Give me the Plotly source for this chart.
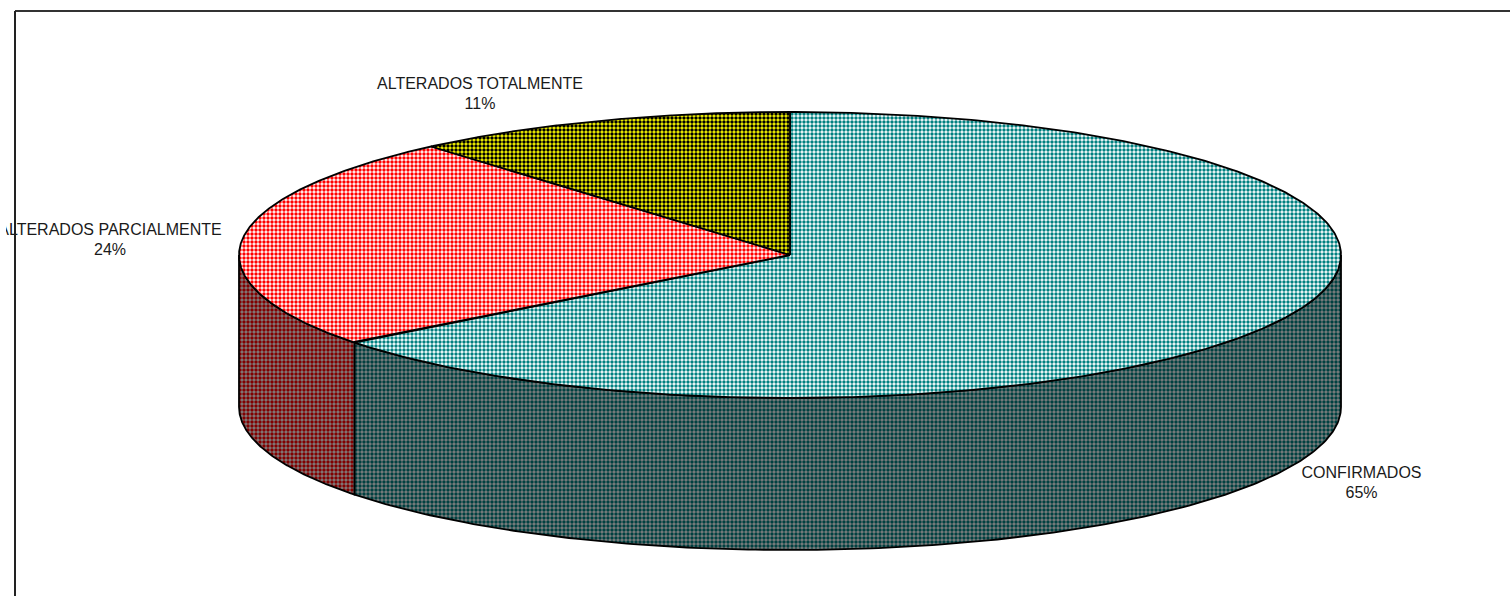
import numpy as np
import plotly.graph_objects as go

categories = ["CONFIRMADOS", "ALTERADOS PARCIALMENTE", "ALTERADOS TOTALMENTE"]
values = [64.51, 24.2, 11.29]
top_fg = ["#008080", "#ff0000", "#000000"]
top_bg = ["#ffffff", "#ffffff", "#ffff00"]
side_fg = ["#004040", "#800000", "#404000"]
side_bg = ["#808080", "#808080", "#808080"]
label_xy = [(1361.5, 484), (110, 241), (480, 95)]

CX, CY, RX, RY, DEPTH = 790, 255, 551, 143, 152


def px(theta):
    return CX + RX * np.sin(theta)


def py(theta):
    return CY - RY * np.cos(theta)


fig = go.Figure()
fr = np.array(values) / sum(values)
edges = np.concatenate([[0], np.cumsum(fr)]) * 2 * np.pi


def patt(fg, bg):
    return dict(shape=".", size=4, solidity=0.58, fgcolor=fg, bgcolor=bg, fillmode="replace")


# sides
for i in range(len(values)):
    a = max(edges[i], np.pi / 2)
    b = min(edges[i + 1], 3 * np.pi / 2)
    if b <= a:
        continue
    t = np.linspace(a, b, 200)
    xs = np.concatenate([px(t), px(t[::-1])])
    ys = np.concatenate([py(t), py(t[::-1]) + DEPTH])
    fig.add_trace(go.Scatter(x=np.append(xs, xs[0]), y=np.append(ys, ys[0]), mode="lines",
                             fill="toself", fillpattern=patt(side_fg[i], side_bg[i]),
                             line=dict(color="#000000", width=1.8), hoverinfo="skip", showlegend=False))
# tops
for i in range(len(values)):
    t = np.linspace(edges[i], edges[i + 1], 400)
    xs = np.concatenate([[CX], px(t), [CX]])
    ys = np.concatenate([[CY], py(t), [CY]])
    fig.add_trace(go.Scatter(x=xs, y=ys, mode="lines", fill="toself",
                             fillpattern=patt(top_fg[i], top_bg[i]),
                             line=dict(color="#000000", width=1.8), hoverinfo="skip", showlegend=False))

# frame
fig.add_shape(type="line", x0=15, x1=1510, y0=11, y1=11, line=dict(color="#333333", width=2))
fig.add_shape(type="line", x0=15, x1=15, y0=11, y1=596, line=dict(color="#222222", width=2))

# labels
fig.add_trace(go.Scatter(
    x=[p[0] for p in label_xy], y=[p[1] for p in label_xy], mode="text",
    text=[f"{c}<br>{round(v)}%" for c, v in zip(categories, values)],
    textposition="middle center", cliponaxis=True,
    textfont=dict(family="Liberation Sans, Arial, sans-serif", size=16, color="#1a1a1a"),
    hoverinfo="skip", showlegend=False))

fig.update_layout(
    width=1510, height=596, margin=dict(l=6, r=0, t=0, b=0),
    paper_bgcolor="#ffffff", plot_bgcolor="#ffffff", showlegend=False,
    xaxis=dict(range=[6, 1510], visible=False, fixedrange=True),
    yaxis=dict(range=[596, 0], visible=False, fixedrange=True),
)
fig.write_html("out.html", config=dict(displayModeBar=False), default_width="1510px", default_height="596px",
               post_script="document.body.style.margin='0';")
